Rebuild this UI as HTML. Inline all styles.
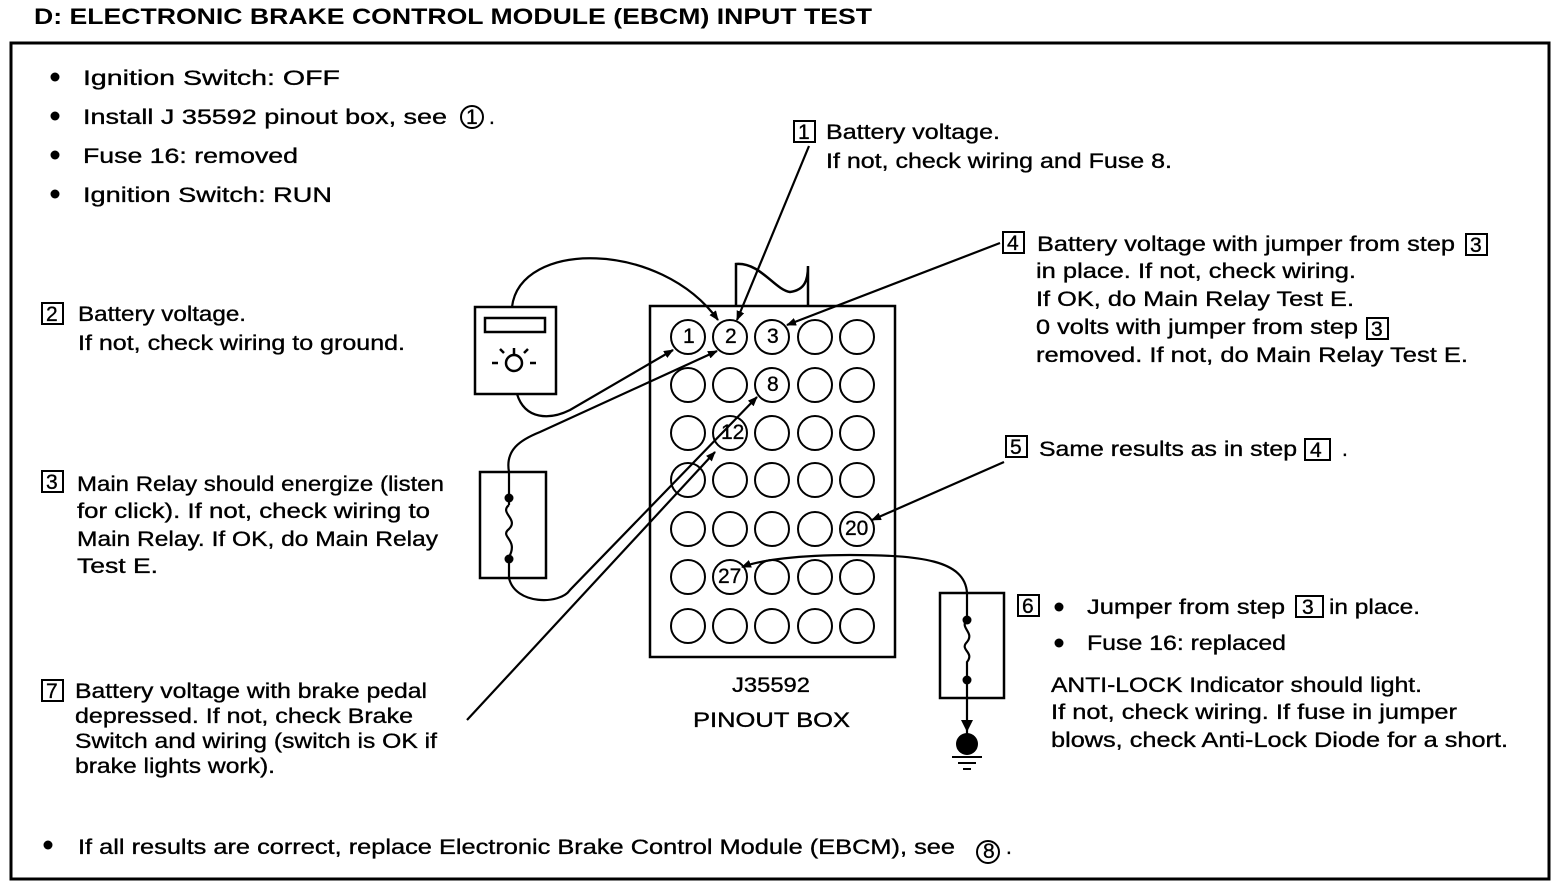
<!DOCTYPE html>
<html><head><meta charset="utf-8"><style>
body{margin:0;background:#fff;}
svg{display:block;}
text{font-family:"Liberation Sans",sans-serif;font-size:21px;fill:#000;stroke:#000;stroke-width:0.35;}
.t{font-weight:bold;font-size:22px;stroke-width:0;}
</style></head><body>
<svg width="1568" height="886" viewBox="0 0 1568 886" xmlns="http://www.w3.org/2000/svg">
<defs><marker id="a" markerWidth="10" markerHeight="8" refX="9" refY="4" orient="auto" markerUnits="userSpaceOnUse"><path d="M0,0 L10,4 L0,8 z" fill="#000"/></marker></defs>
<text x="34" y="24" class="t" textLength="838" lengthAdjust="spacingAndGlyphs">D: ELECTRONIC BRAKE CONTROL MODULE (EBCM) INPUT TEST</text>
<rect x="11" y="43" width="1538" height="836" fill="none" stroke="#000" stroke-width="3"/>
<g fill="#000"><circle cx="55" cy="77" r="4.5"/><circle cx="55" cy="116" r="4.5"/><circle cx="55" cy="155" r="4.5"/><circle cx="55" cy="194" r="4.5"/><circle cx="48" cy="845" r="4.5"/><circle cx="1059" cy="607" r="4.5"/><circle cx="1059" cy="643" r="4.5"/></g>
<text x="83" y="85" textLength="257" lengthAdjust="spacingAndGlyphs">Ignition  Switch: OFF</text>
<text x="83" y="124" textLength="364" lengthAdjust="spacingAndGlyphs">Install J 35592 pinout box, see</text>
<circle cx="472" cy="117" r="11" fill="none" stroke="#000" stroke-width="2"/><text x="466" y="124" font-size="16">1</text><text x="489" y="124">.</text>
<text x="83" y="163" textLength="215" lengthAdjust="spacingAndGlyphs">Fuse 16: removed</text>
<text x="83" y="202" textLength="249" lengthAdjust="spacingAndGlyphs">Ignition Switch: RUN</text>
<g fill="none" stroke="#000" stroke-width="2">
<rect x="794" y="121" width="21" height="21"/><rect x="42" y="303" width="21" height="21"/><rect x="1003" y="232" width="21" height="21"/><rect x="1466" y="234" width="21" height="21"/><rect x="1367" y="318" width="21" height="21"/><rect x="42" y="471" width="21" height="21"/><rect x="1006" y="436" width="21" height="21"/><rect x="1305" y="439" width="25" height="21"/><rect x="1018" y="595" width="21" height="21"/><rect x="1296" y="596" width="27" height="21"/><rect x="42" y="680" width="21" height="21"/>
<circle cx="988" cy="852" r="11"/>
</g>
<g font-size="18"><text x="798" y="139">1</text><text x="46" y="321">2</text><text x="1007" y="250">4</text><text x="1470" y="252">3</text><text x="1371" y="336">3</text><text x="46" y="489">3</text><text x="1010" y="454">5</text><text x="1310" y="457">4</text><text x="1022" y="613">6</text><text x="1302" y="614">3</text><text x="46" y="698">7</text><text x="983" y="858" font-size="15">8</text></g>
<g>
<text x="826" y="139" textLength="174" lengthAdjust="spacingAndGlyphs">Battery voltage.</text>
<text x="826" y="168" textLength="346" lengthAdjust="spacingAndGlyphs">If not, check wiring and Fuse 8.</text>
<text x="78" y="321" textLength="168" lengthAdjust="spacingAndGlyphs">Battery voltage.</text>
<text x="78" y="350" textLength="327" lengthAdjust="spacingAndGlyphs">If not, check wiring to ground.</text>
<text x="1037" y="251" textLength="418" lengthAdjust="spacingAndGlyphs">Battery voltage with jumper from step</text>
<text x="1036" y="278" textLength="320" lengthAdjust="spacingAndGlyphs">in place. If not, check wiring.</text>
<text x="1036" y="306" textLength="318" lengthAdjust="spacingAndGlyphs">If OK, do Main Relay Test E.</text>
<text x="1036" y="334" textLength="322" lengthAdjust="spacingAndGlyphs">0 volts with jumper from step</text>
<text x="1036" y="362" textLength="432" lengthAdjust="spacingAndGlyphs">removed. If not, do Main Relay Test E.</text>
<text x="1039" y="456" textLength="258" lengthAdjust="spacingAndGlyphs">Same results as in step</text><text x="1342" y="456">.</text>
<text x="77" y="491" textLength="367" lengthAdjust="spacingAndGlyphs">Main Relay should energize (listen</text>
<text x="77" y="518" textLength="353" lengthAdjust="spacingAndGlyphs">for click). If not, check wiring to</text>
<text x="77" y="546" textLength="361" lengthAdjust="spacingAndGlyphs">Main Relay. If OK, do Main Relay</text>
<text x="77" y="573" textLength="81" lengthAdjust="spacingAndGlyphs">Test E.</text>
<text x="1087" y="614" textLength="198" lengthAdjust="spacingAndGlyphs">Jumper from step</text><text x="1329" y="614" textLength="91" lengthAdjust="spacingAndGlyphs">in place.</text>
<text x="1087" y="650" textLength="199" lengthAdjust="spacingAndGlyphs">Fuse 16: replaced</text>
<text x="1051" y="692" textLength="371" lengthAdjust="spacingAndGlyphs">ANTI-LOCK Indicator should light.</text>
<text x="1051" y="719" textLength="406" lengthAdjust="spacingAndGlyphs">If not, check wiring. If fuse in jumper</text>
<text x="1051" y="747" textLength="457" lengthAdjust="spacingAndGlyphs">blows, check Anti-Lock Diode for a short.</text>
<text x="75" y="698" textLength="352" lengthAdjust="spacingAndGlyphs">Battery voltage with brake pedal</text>
<text x="75" y="723" textLength="338" lengthAdjust="spacingAndGlyphs">depressed. If not, check Brake</text>
<text x="75" y="748" textLength="362" lengthAdjust="spacingAndGlyphs">Switch and wiring (switch is OK if</text>
<text x="75" y="773" textLength="200" lengthAdjust="spacingAndGlyphs">brake lights work).</text>
<text x="78" y="854" textLength="877" lengthAdjust="spacingAndGlyphs">If all results are correct, replace Electronic Brake Control Module (EBCM), see</text><text x="1006" y="854">.</text>
<text x="732" y="692" font-size="19" textLength="78" lengthAdjust="spacingAndGlyphs">J35592</text>
<text x="693" y="727" font-size="21" textLength="157" lengthAdjust="spacingAndGlyphs">PINOUT BOX</text>
</g>
<g fill="none" stroke="#000" stroke-width="2.5">
<rect x="650" y="306" width="245" height="351"/>
<path d="M736,306 V264 C760,262 775,290 790,292 C805,290 808,280 808,266 V306"/>
<rect x="475" y="307" width="81" height="87"/>
<rect x="485" y="318" width="60" height="14"/>
<circle cx="514" cy="363" r="8"/>
<path d="M498,363h-6M530,363h6M514,355v-7M504,353l-4,-4M524,353l4,-4"/>
<rect x="480" y="472" width="66" height="106"/>
<rect x="940" y="593" width="64" height="105"/>
</g>
<g fill="none" stroke="#000" stroke-width="2">
<g id="r1"><circle cx="688" cy="337" r="17"/><circle cx="730" cy="337" r="17"/><circle cx="772" cy="337" r="17"/><circle cx="815" cy="337" r="17"/><circle cx="857" cy="337" r="17"/></g>
<use href="#r1" y="48"/><use href="#r1" y="96"/><use href="#r1" y="143"/><use href="#r1" y="192"/><use href="#r1" y="240"/><use href="#r1" y="289"/>
</g>
<g font-size="15"><text x="683" y="343">1</text><text x="725" y="343">2</text><text x="767" y="343">3</text><text x="767" y="391">8</text><text x="721" y="439">12</text><text x="845" y="535">20</text><text x="718" y="583">27</text></g>
<g fill="none" stroke="#000" stroke-width="2.2">
<path d="M809,146 L737,320" marker-end="url(#a)"/>
<path d="M1000,243 L787,325" marker-end="url(#a)"/>
<path d="M1004,462 L872,520" marker-end="url(#a)"/>
<path d="M512,307 C520,240 660,240 718,320" marker-end="url(#a)"/>
<path d="M517,394 C525,420 550,420 570,410 L673,350" marker-end="url(#a)"/>
<path d="M509,472 V505 M509,505 c-10,8 10,14 0,24 c-10,8 10,10 0,28 V578 C515,605 560,605 570,590 L757,397" marker-end="url(#a)"/>
<path d="M509,472 C505,450 520,440 540,432 L717,351" marker-end="url(#a)"/>
<path d="M467,720 L715,452" marker-end="url(#a)"/>
<path d="M967,593 C965,560 920,555 850,555 C800,555 760,560 742,567" marker-end="url(#a)"/>
<path d="M967,593 V620 c-8,8 8,12 0,22 c-8,8 8,10 0,20 V735"/>
</g>
<g fill="#000"><circle cx="509" cy="498" r="4.5"/><circle cx="509" cy="559" r="4.5"/><circle cx="967" cy="620" r="4.5"/><circle cx="967" cy="680" r="4.5"/><path d="M961,720 h12 l-6,12z"/><circle cx="967" cy="744" r="11"/></g>
<path d="M952,757h30M958,763h18M963,769h8" stroke="#000" stroke-width="2"/>
</svg>
</body></html>
